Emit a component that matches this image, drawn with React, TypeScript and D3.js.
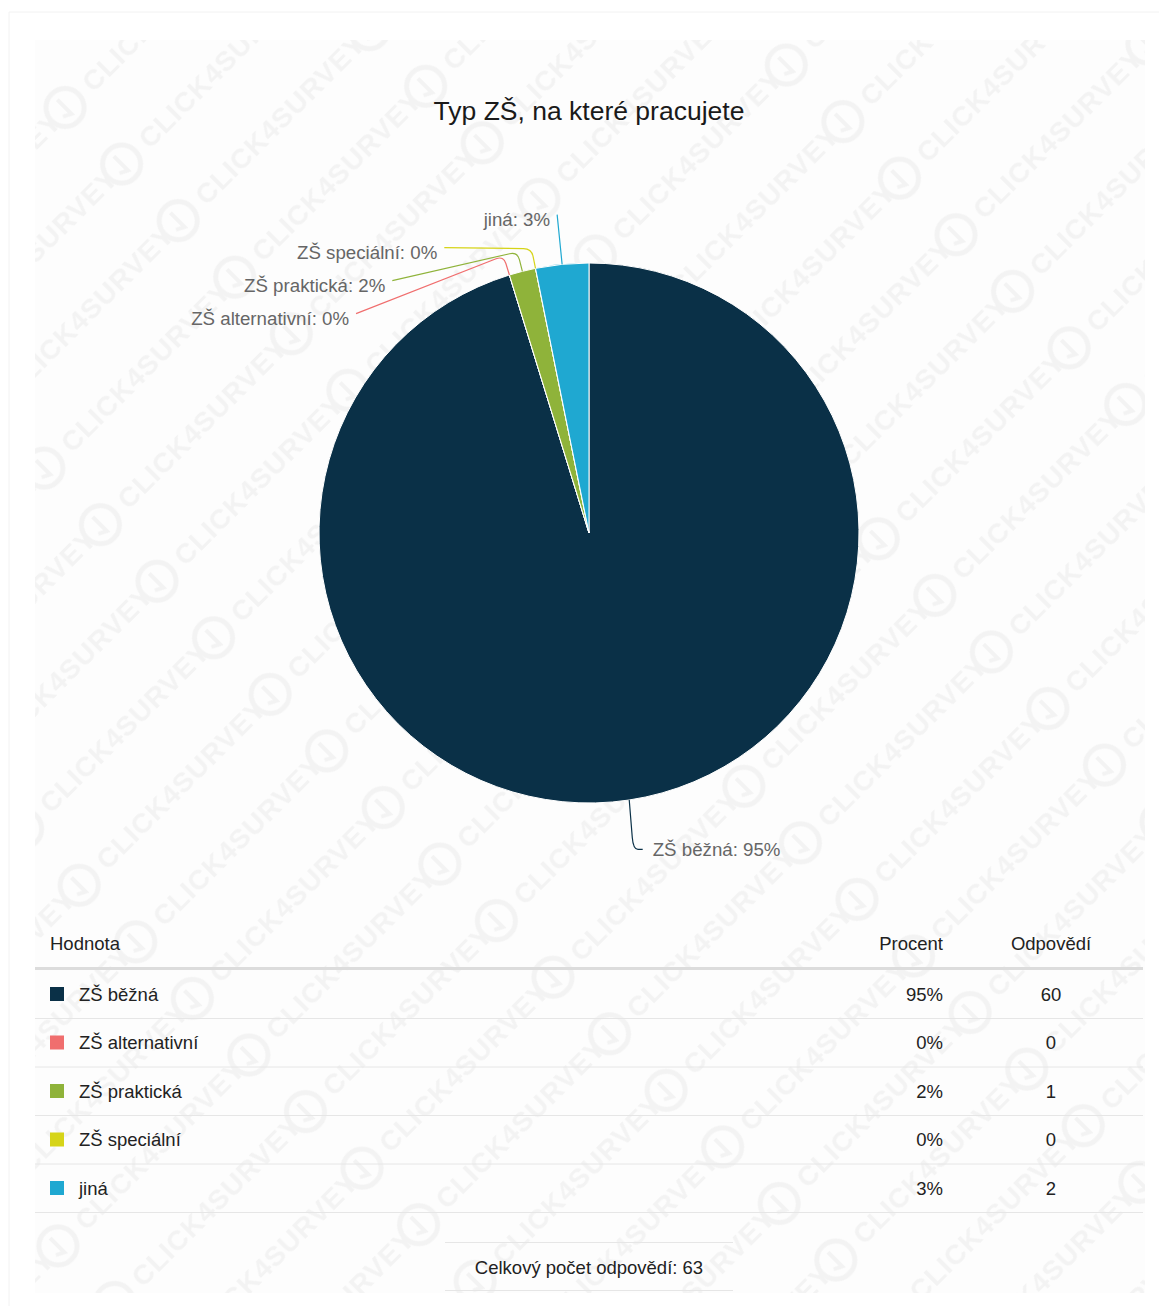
import React from "react";
import * as d3 from "d3";

const title = "Typ ZŠ, na které pracujete";
const categories = ["ZŠ běžná", "ZŠ alternativní", "ZŠ praktická", "ZŠ speciální", "jiná"];
const counts = [60, 0, 1, 0, 2];
const percentLabels = ["95%", "0%", "2%", "0%", "3%"];
const colors = ["#0a3047", "#f06e6e", "#8fb33a", "#d6d418", "#1fa8d1"];
const headers = ["Hodnota", "Procent", "Odpovědí"];
const totalLabel = "Celkový počet odpovědí: 63";

const W = 1159;
const H = 1306;
const FONT = "'Liberation Sans', Arial, sans-serif";

export default function App() {
  const cx = 589;
  const cy = 533;
  const r = 270;
  const R = 320;
  const pie = d3.pie<number>().sort(null).value((d) => d);
  const arcs = pie(counts);
  const arcGen = d3.arc<d3.PieArcDatum<number>>().innerRadius(0).outerRadius(r);

  type Lab = { i: number; mid: number; left: boolean; x: number; y: number; ex: number; ey: number; bx: number; by: number };
  const labs: Lab[] = arcs.map((a, i) => {
    const mid = (a.startAngle + a.endAngle) / 2;
    const ex = cx + r * Math.sin(mid);
    const ey = cy - r * Math.cos(mid);
    const bx = cx + (r + 20) * Math.sin(mid);
    const by = cy - (r + 20) * Math.cos(mid);
    return { i, mid, left: mid > Math.PI, x: cx + R * Math.sin(mid), y: cy - R * Math.cos(mid), ex, ey, bx, by };
  });
  const leftLabs = labs.filter((l) => l.left).sort((a, b) => a.y - b.y);
  let prev = -Infinity;
  leftLabs.forEach((l) => {
    l.y = Math.max(l.y, prev + 33);
    prev = l.y;
    const dy = l.y - cy;
    l.x = cx - Math.sqrt(Math.max(0, R * R - dy * dy));
  });
  labs.filter((l) => !l.left).forEach((l) => {
    l.x = l.x + 6;
    l.bx = l.ex + 4;
    l.by = l.y;
  });

  const connector = (l: Lab) => {
    const k = l.left ? 8 : 12;
    const d1 = Math.hypot(l.bx - l.x, l.by - l.y) || 1;
    const d2 = Math.hypot(l.ex - l.bx, l.ey - l.by) || 1;
    const p1x = l.bx + ((l.x - l.bx) / d1) * Math.min(k, d1 / 2);
    const p1y = l.by + ((l.y - l.by) / d1) * Math.min(k, d1 / 2);
    const p2x = l.bx + ((l.ex - l.bx) / d2) * Math.min(k, d2 / 2);
    const p2y = l.by + ((l.ey - l.by) / d2) * Math.min(k, d2 / 2);
    return `M${l.x},${l.y}L${p1x},${p1y}Q${l.bx},${l.by} ${p2x},${p2y}L${l.ex},${l.ey}`;
  };

  const tableX0 = 35;
  const tableX1 = 1143;
  const headerY = 943;
  const rowY = d3.range(categories.length).map((i) => 994 + i * 48.5);

  return (
    <div style={{ position: "absolute", left: 0, top: 0, width: W, height: H, background: "#fff" }}>
      <svg width={W} height={H} style={{ display: "block", fontFamily: FONT }}>
        <defs>
          <pattern id="wm" width="270" height="80" patternUnits="userSpaceOnUse" patternTransform="rotate(-45)">
            <text x="0" y="52" fontSize="28" fontWeight="bold" fill="#f3f3f3" fontFamily={FONT} letterSpacing="1">
              CLICK4SURVEY
            </text>
            <circle cx="240" cy="42" r="19" fill="none" stroke="#f3f3f3" strokeWidth="5" />
            <path d="M240,31 L240,51 L232,47" fill="none" stroke="#f3f3f3" strokeWidth="4" />
          </pattern>
        </defs>
        <rect x={0} y={0} width={W} height={H} fill="#fff" />
        <line x1={9} y1={12} x2={W} y2={12} stroke="#f2f2f2" />
        <line x1={9} y1={12} x2={9} y2={H} stroke="#f2f2f2" />
        <rect x={35} y={40} width={1110} height={1253} fill="#fdfdfd" />
        <rect x={35} y={40} width={1110} height={1253} fill="url(#wm)" />

        <text x={cx} y={111} textAnchor="middle" dominantBaseline="central" fontSize={26.5} fill="#1a1a1a">
          {title}
        </text>

        <g>
          {arcs.map((a, i) => (
            <path key={i} d={arcGen(a) || ""} transform={`translate(${cx},${cy})`} fill={colors[i]} stroke="#fff" strokeWidth={1} />
          ))}
        </g>

        <g>
          {labs.map((l) => (
            <g key={l.i}>
              <path d={connector(l)} fill="none" stroke={colors[l.i]} strokeWidth={1.2} />
              <text
                x={l.left ? l.x - 7 : l.x + 10}
                y={l.y + (l.left ? 5 : 0)}
                textAnchor={l.left ? "end" : "start"}
                dominantBaseline="central"
                fontSize={18.7}
                fill="#666"
              >
                {`${categories[l.i]}: ${percentLabels[l.i]}`}
              </text>
            </g>
          ))}
        </g>

        <g fontSize={18.5} fill="#222">
          <text x={50} y={headerY} dominantBaseline="central">{headers[0]}</text>
          <text x={943} y={headerY} textAnchor="end" dominantBaseline="central">{headers[1]}</text>
          <text x={1051} y={headerY} textAnchor="middle" dominantBaseline="central">{headers[2]}</text>
          <line x1={tableX0} x2={tableX1} y1={968.5} y2={968.5} stroke="#dcdcdc" strokeWidth={3} />
          {categories.map((c, i) => (
            <g key={c}>
              <rect x={50} y={rowY[i] - 7} width={14} height={14} fill={colors[i]} />
              <text x={79} y={rowY[i]} dominantBaseline="central">{c}</text>
              <text x={943} y={rowY[i]} textAnchor="end" dominantBaseline="central">{percentLabels[i]}</text>
              <text x={1051} y={rowY[i]} textAnchor="middle" dominantBaseline="central">{counts[i]}</text>
              <line x1={tableX0} x2={tableX1} y1={rowY[i] + 24.5} y2={rowY[i] + 24.5} stroke="#e6e6e6" strokeWidth={1} />
            </g>
          ))}
          <line x1={445} x2={733} y1={1242.5} y2={1242.5} stroke="#e6e6e6" />
          <text x={589} y={1267} textAnchor="middle" dominantBaseline="central">{totalLabel}</text>
          <line x1={445} x2={733} y1={1290.5} y2={1290.5} stroke="#e6e6e6" />
        </g>
      </svg>
    </div>
  );
}
